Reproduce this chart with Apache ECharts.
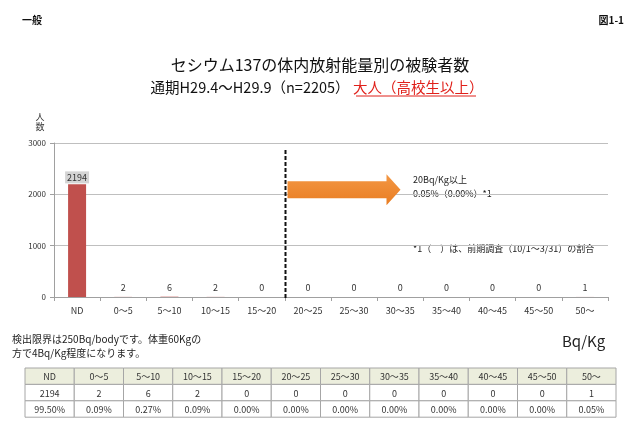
<!DOCTYPE html>
<html>
<head>
<meta charset="utf-8">
<script src="https://cdn.jsdelivr.net/npm/echarts@6/dist/echarts.min.js"></script>
<style>
html,body{margin:0;padding:0;background:#fff;}
#main{width:640px;height:427px;}
</style>
</head>
<body>
<div id="main"></div>
<script>
// 区分 (Bq/Kg)
var categories = ['ND', '0～5', '5～10', '10～15', '15～20', '20～25', '25～30', '30～35', '35～40', '40～45', '45～50', '50～'];
// 人数
var counts = [2194, 2, 6, 2, 0, 0, 0, 0, 0, 0, 0, 1];
// 割合
var percents = ['99.50%', '0.09%', '0.27%', '0.09%', '0.00%', '0.00%', '0.00%', '0.00%', '0.00%', '0.00%', '0.00%', '0.05%'];
var yMax = 3000, yStep = 1000;

var FONT = '"Noto Sans CJK JP", sans-serif';

var chart = echarts.init(document.getElementById('main'));

var barData = counts.map(function (v, i) {
    var item = { value: v };
    if (i === 0) {
        item.label = { backgroundColor: '#D4D4D4', padding: [2, 2, 1, 2], distance: 1 };
    }
    return item;
});

// 表 (graphic)
function buildTable() {
    var left = 25, top = 368, colW = 49.25, rowH = 16.4;
    var rows = [categories, counts.map(String), percents];
    var els = [];
    for (var r = 0; r < rows.length; r++) {
        for (var c = 0; c < rows[r].length; c++) {
            els.push({
                type: 'rect',
                shape: { x: left + c * colW, y: top + r * rowH, width: colW, height: rowH },
                style: { fill: r === 0 ? '#ECEEDD' : '#fff', stroke: '#A6A6A6', lineWidth: 1 },
                silent: true
            });
            els.push({
                type: 'text',
                x: left + c * colW + colW / 2,
                y: top + r * rowH + rowH / 2 + 0.5,
                style: { text: rows[r][c], fontSize: 9, fontFamily: FONT, fill: '#333', align: 'center', verticalAlign: 'middle' },
                silent: true
            });
        }
    }
    return els;
}

var option = {
    animation: false,
    backgroundColor: '#fff',
    textStyle: { fontFamily: FONT },
    title: [{
        text: 'セシウム137の体内放射能量別の被験者数',
        left: 'center',
        top: 52,
        textStyle: { fontSize: 16, fontWeight: 'normal', color: '#111', fontFamily: FONT }
    }],
    grid: { left: 54, right: 32, top: 143, bottom: 130 },
    xAxis: {
        type: 'category',
        data: categories,
        axisLine: { lineStyle: { color: '#A0A0A0' } },
        axisTick: { show: true, length: 4, lineStyle: { color: '#A0A0A0' } },
        axisLabel: { fontSize: 9, color: '#333', margin: 9, interval: 0 }
    },
    yAxis: {
        type: 'value',
        min: 0,
        max: yMax,
        interval: yStep,
        axisLine: { show: true, lineStyle: { color: '#A0A0A0' } },
        axisTick: { show: true, length: 4, lineStyle: { color: '#A0A0A0' } },
        axisLabel: { fontSize: 8, color: '#333', margin: 8, formatter: function (v) { return String(v); } },
        splitLine: { lineStyle: { color: '#BFBFBF' } }
    },
    series: [{
        type: 'bar',
        data: barData,
        barWidth: 18,
        itemStyle: { color: '#C0504D' },
        label: { show: true, position: 'top', fontSize: 9, color: '#333', distance: 5 }
    }],
    graphic: []
};
chart.setOption(option);

// 20Bq/Kg の区切り位置
var p4 = chart.convertToPixel({ seriesIndex: 0 }, [4, 0]);
var p5 = chart.convertToPixel({ seriesIndex: 0 }, [5, 0]);
var pTop = chart.convertToPixel({ seriesIndex: 0 }, [0, yMax]);
var divX = Math.round((p4[0] + p5[0]) / 2) + 0.5;
var y0 = p4[1];
var arrowY = chart.convertToPixel({ seriesIndex: 0 }, [0, 2100])[1];

var g = [
    { type: 'text', left: 22, top: 15, style: { text: '一般', fontSize: 10, fontWeight: 'bold', fontFamily: FONT, fill: '#111' } },
    { type: 'text', right: 16, top: 15, style: { text: '図1-1', fontSize: 10, fontWeight: 'bold', fontFamily: FONT, fill: '#111' } },
    {
        type: 'text', x: 317, y: 87,
        style: {
            text: '{b|通期H29.4～H29.9（n=2205）} {r|大人（高校生以上）}',
            align: 'center', verticalAlign: 'middle',
            rich: {
                b: { fontSize: 14.5, fontFamily: FONT, fill: '#111' },
                r: { fontSize: 14.5, fontFamily: FONT, fill: '#E0201A' }
            }
        }
    },
    { type: 'line', shape: { x1: 356, y1: 96, x2: 476, y2: 96 }, style: { stroke: '#E0201A', lineWidth: 1 } },
    { type: 'text', x: 40, y: 112, style: { text: '人\n数', fontSize: 9, lineHeight: 10, fontFamily: FONT, fill: '#333', align: 'center' } },
    // 区切り線
    { type: 'line', z: 10, shape: { x1: divX, y1: pTop[1] + 7, x2: divX, y2: y0 + 1 }, style: { stroke: '#111', lineWidth: 2, lineDash: [4, 2] } },
    // 矢印
    {
        type: 'polygon',
        z: 20,
        shape: {
            points: [
                [divX + 2, arrowY - 8], [divX + 101, arrowY - 8], [divX + 101, arrowY - 15],
                [divX + 115, arrowY + 0.5], [divX + 101, arrowY + 16], [divX + 101, arrowY + 9],
                [divX + 2, arrowY + 9]
            ]
        },
        style: {
            fill: new echarts.graphic.LinearGradient(0, 0, 0, 1, [
                { offset: 0, color: '#F39744' },
                { offset: 1, color: '#E97D22' }
            ])
        }
    },
    { type: 'text', x: 413, y: 175, style: { text: '20Bq/Kg以上', fontSize: 9, fontFamily: FONT, fill: '#222' } },
    { type: 'text', x: 413, y: 189, style: { text: '0.05%（0.00%）*1', fontSize: 9, fontFamily: FONT, fill: '#222' } },
    { type: 'text', x: 413, y: 244, style: { text: '*1（　）は、前期調査（10/1～3/31）の割合', fontSize: 9, fontFamily: FONT, fill: '#222' } },
    // 注記
    { type: 'text', x: 12, y: 332, style: { text: '検出限界は250Bq/bodyです。体重60Kgの\n方で4Bq/Kg程度になります。', fontSize: 10, lineHeight: 14, fontFamily: FONT, fill: '#222' } },
    { type: 'text', x: 562, y: 334, style: { text: 'Bq/Kg', fontSize: 15, fontFamily: FONT, fill: '#222' } }
];
chart.setOption({ graphic: g.concat(buildTable()) });
</script>
</body>
</html>
